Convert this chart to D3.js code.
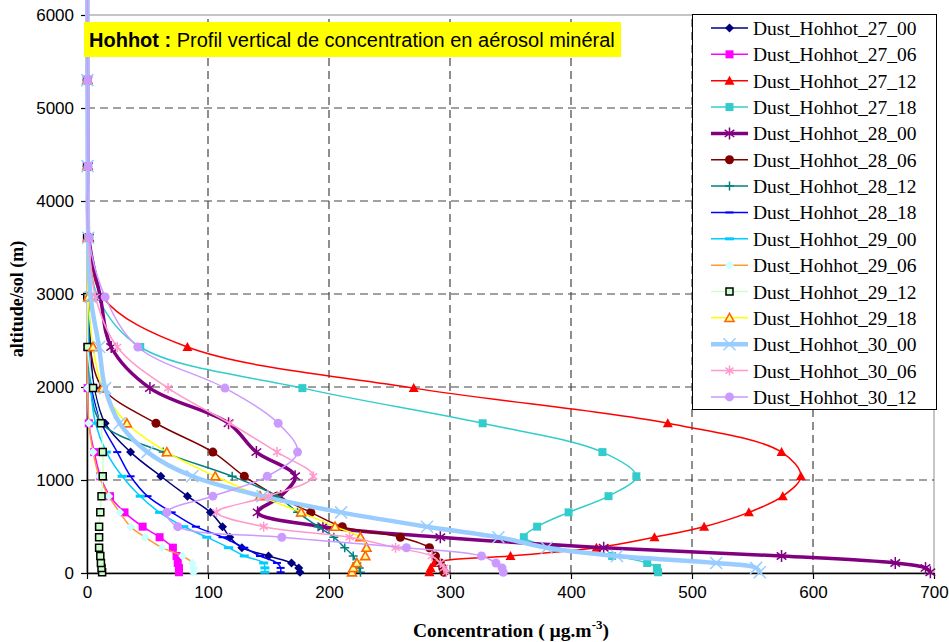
<!DOCTYPE html>
<html><head><meta charset="utf-8">
<script src="https://cdn.jsdelivr.net/npm/d3@7"></script>
<style>body{margin:0;background:#fff}svg{display:block}</style>
</head><body><svg id="c" width="949" height="642"></svg>
<script>
// ---------- DATA ----------
const altitudes = [8, 55, 108, 183, 272, 385, 498, 652, 826, 1040, 1300, 1610, 1988, 2430, 2968, 3605, 4375, 5300, 6600];
const seriesNames = ["Dust_Hohhot_27_00","Dust_Hohhot_27_06","Dust_Hohhot_27_12","Dust_Hohhot_27_18","Dust_Hohhot_28_00","Dust_Hohhot_28_06","Dust_Hohhot_28_12","Dust_Hohhot_28_18","Dust_Hohhot_29_00","Dust_Hohhot_29_06","Dust_Hohhot_29_12","Dust_Hohhot_29_18","Dust_Hohhot_30_00","Dust_Hohhot_30_06","Dust_Hohhot_30_12"];
const d27_00 = [176, 175, 169, 150, 128, 118, 112, 102, 83, 61, 36, 15, 6, 3, 1.5, 1, 0.5, 0.3, 0.2];
const d27_06 = [76, 76, 75, 74, 71, 60, 46, 31, 19, 11, 6, 1.5, 0.5, 0.3, 0.2, 0.2, 0.1, 0.1, 0.1];
const d27_12 = [283, 284, 287, 350, 421, 469, 510, 547, 575, 590, 574, 480, 270, 83, 13, 2, 1, 0.5, 0.3];
const d27_18 = [472, 471, 463, 434, 388, 361, 372, 398, 431, 454, 426, 327, 178, 44, 9, 2, 1, 0.5, 0.3];
const d28_00 = [697, 693, 668, 574, 427, 292, 195, 141, 160, 172, 140, 117, 52, 20, 11, 1.5, 0.8, 0.5, 0.3];
const d28_06 = [295, 294, 292, 288, 283, 259, 211, 185, 157, 130, 104, 57, 13, 2.5, 1, 0.5, 0.3, 0.2, 0.1];
const d28_12 = [226, 225, 223, 220, 213, 204, 191, 174, 157, 120, 63, 12, 3, 1, 0.5, 0.3, 0.2, 0.1, 0.1];
const d28_18 = [160, 160, 157, 143, 130, 112, 90, 70, 50, 36, 25, 12, 4, 1.5, 0.8, 0.5, 0.3, 0.2, 0.1];
const d29_00 = [147, 147, 146, 130, 117, 99, 80, 60, 44, 29, 16, 7, 3, 1.5, 0.8, 0.5, 0.3, 0.2, 0.1];
const d29_06 = [88, 88, 87, 79, 62, 48, 36, 27, 18, 10, 5, 1.5, 0.5, 0.3, 0.2, 0.2, 0.1, 0.1, 0.1];
const d29_12 = [12.5, 12, 11.5, 11, 10, 10, 10, 11, 12, 13, 13, 11.5, 5, 0.5, 0.2, 0.1, 0.1, 0.1, 0.1];
const d29_18 = [219, 220, 223, 230, 231, 226, 205, 177, 143, 106, 66, 33, 13, 5, 1, 0.5, 0.3, 0.2, 0.1];
const d30_00 = [556, 553, 520, 438, 380, 340, 281, 210, 145, 87, 50, 27, 15, 10, 3, 1, 0.5, 0.3, 0.2];
const d30_06 = [297, 295, 292, 285, 255, 217, 146, 107, 150, 187, 157, 118, 67, 25, 7, 1.5, 0.8, 0.5, 0.3];
const d30_12 = [344, 343, 338, 326, 264, 161, 75, 66, 104, 149, 174, 158, 114, 42, 15, 1.5, 0.8, 0.5, 0.3];
const xTicks = [0, 100, 200, 300, 400, 500, 600, 700];
const yTicks = [0, 1000, 2000, 3000, 4000, 5000, 6000];
const titleBold = "Hohhot :";
const titleRest = " Profil vertical de concentration en aérosol minéral";
const xLabel = "Concentration ( µg.m";
const xLabelSup = "-3";
const yLabel = "altitude/sol (m)";

// ---------- STYLES ----------
const allValues = [d27_00,d27_06,d27_12,d27_18,d28_00,d28_06,d28_12,d28_18,d29_00,d29_06,d29_12,d29_18,d30_00,d30_06,d30_12];
const styles = [
  {line:"#000080", w:1.5, m:"diamond", fill:"#000080", stroke:"none", ms:9},
  {line:"#FF00FF", w:1.5, m:"square", fill:"#FF00FF", stroke:"none", ms:8},
  {line:"#FF0000", w:1.5, m:"triangle", fill:"#FF0000", stroke:"none", ms:10},
  {line:"#33CCCC", w:1.5, m:"square", fill:"#33CCCC", stroke:"none", ms:8},
  {line:"#800080", w:3.5, m:"star", fill:"none", stroke:"#800080", ms:12, sw:1.5},
  {line:"#800000", w:1.5, m:"circle", fill:"#800000", stroke:"none", ms:9},
  {line:"#008080", w:1.5, m:"plus", fill:"none", stroke:"#008080", ms:9, sw:1.5},
  {line:"#0000FF", w:1.5, m:"dash", fill:"none", stroke:"#0000FF", ms:8, sw:2},
  {line:"#00CCFF", w:1.5, m:"dash", fill:"none", stroke:"#00CCFF", ms:9, sw:3},
  {line:"#FF9933", w:1.5, m:"diamond", fill:"#CCFFFF", stroke:"none", ms:9},
  {line:"#CCFFCC", w:1.5, m:"square", fill:"#CCFFCC", stroke:"#000000", ms:7, sw:1.5},
  {line:"#FFFF00", w:1.5, m:"triangle", fill:"#FFFF99", stroke:"#FF6600", ms:9, sw:1.6},
  {line:"#99CCFF", w:4.5, m:"x", fill:"none", stroke:"#99CCFF", ms:12, sw:1.5},
  {line:"#FF99CC", w:1.5, m:"star", fill:"none", stroke:"#FF99CC", ms:10, sw:1.5},
  {line:"#CC99FF", w:1.5, m:"circle", fill:"#CC99FF", stroke:"none", ms:9}
];

const svg = d3.select("#c");
const x = d3.scaleLinear().domain([0, 700]).range([87, 934]);
const y = d3.scaleLinear().domain([0, 6000]).range([573, 15]);

function markerPath(type, s) {
  const h = s / 2;
  switch (type) {
    case "diamond": return `M0,${-h}L${h},0L0,${h}L${-h},0Z`;
    case "square": return `M${-h},${-h}H${h}V${h}H${-h}Z`;
    case "triangle": return `M0,${-h}L${h},${h*0.8}L${-h},${h*0.8}Z`;
    case "circle": return d3.symbol(d3.symbolCircle, Math.PI*h*h)();
    case "star": return `M0,${-h}V${h}M${-h*0.8},${-h*0.6}L${h*0.8},${h*0.6}M${-h*0.8},${h*0.6}L${h*0.8},${-h*0.6}`;
    case "plus": return `M0,${-h}V${h}M${-h},0H${h}`;
    case "dash": return `M${-h},0H${h}`;
    case "x": return `M${-h},${-h}L${h},${h}M${-h},${h}L${h},${-h}`;
  }
}

// plot border (grey) and gridlines
svg.append("rect").attr("x", 87).attr("y", 15).attr("width", 934-87).attr("height", 573-15)
  .attr("fill", "none").attr("stroke", "#a0a0a0").attr("stroke-width", 1.2);
const grid = svg.append("g");
grid.selectAll("line.v").data(xTicks.filter(v => v > 0 && v < 700)).join("line")
  .attr("x1", d => x(d)).attr("x2", d => x(d)).attr("y1", y(0)).attr("y2", y(6000))
  .attr("stroke", "#444").attr("stroke-width", 1.2).attr("stroke-dasharray", "8,5");
grid.selectAll("line.h").data(yTicks.filter(v => v > 0 && v < 6000)).join("line")
  .attr("y1", d => y(d)).attr("y2", d => y(d)).attr("x1", x(0)).attr("x2", x(700))
  .attr("stroke", "#444").attr("stroke-width", 1.2).attr("stroke-dasharray", "8,5");

// axes
const fontTick = "'Liberation Sans', Arial, sans-serif";
const yAxis = svg.append("g").attr("transform", `translate(${x(0)},0)`)
  .call(d3.axisLeft(y).tickValues(yTicks).tickSize(6).tickPadding(7).tickFormat(d3.format("d")).tickSizeOuter(0));
const xAxis = svg.append("g").attr("transform", `translate(0,${y(0)})`)
  .call(d3.axisBottom(x).tickValues(xTicks).tickSize(6).tickPadding(7).tickFormat(d3.format("d")).tickSizeOuter(0));
[xAxis, yAxis].forEach(a => {
  a.select(".domain").attr("stroke", "#000").attr("stroke-width", 1.5);
  a.selectAll(".tick line").attr("stroke", "#000").attr("stroke-width", 1.2);
  a.selectAll(".tick text").attr("font-family", fontTick).attr("font-size", 17).attr("fill", "#000");
});

// series
const lineGen = d3.line().x(d => x(d[0])).y(d => y(d[1])).curve(d3.curveCatmullRom.alpha(0.5));
allValues.forEach((vals, i) => {
  const st = styles[i];
  const pts = vals.map((v, k) => [v, altitudes[k]]);
  const g = svg.append("g");
  g.append("path").attr("d", lineGen(pts)).attr("fill", "none")
    .attr("stroke", st.line).attr("stroke-width", st.w).attr("stroke-linejoin", "round");
  g.selectAll("path.m").data(pts).join("path").attr("class", "m")
    .attr("transform", d => `translate(${x(d[0])},${y(d[1])})`)
    .attr("d", markerPath(st.m, st.ms))
    .attr("fill", st.fill).attr("stroke", st.stroke).attr("stroke-width", st.sw || 1);
});

// title
svg.append("rect").attr("x", 84).attr("y", 22).attr("width", 537).attr("height", 35).attr("fill", "#FFFF00");
const tt = svg.append("text").attr("x", 89).attr("y", 47)
  .attr("font-family", "'Liberation Sans', Arial, sans-serif").attr("font-size", 20).attr("fill", "#000");
tt.append("tspan").attr("font-weight", "bold").text(titleBold);
tt.append("tspan").text(titleRest);

// legend
const lg = svg.append("g");
lg.append("rect").attr("x", 692.5).attr("y", 14.5).attr("width", 244).attr("height", 395)
  .attr("fill", "#fff").attr("stroke", "#000").attr("stroke-width", 1);
seriesNames.forEach((name, i) => {
  const st = styles[i];
  const cy = 28 + i * 26.35;
  lg.append("line").attr("x1", 711).attr("x2", 748).attr("y1", cy).attr("y2", cy)
    .attr("stroke", st.line).attr("stroke-width", st.w);
  lg.append("path").attr("transform", `translate(729.5,${cy})`).attr("d", markerPath(st.m, st.ms))
    .attr("fill", st.fill).attr("stroke", st.stroke).attr("stroke-width", st.sw || 1);
  lg.append("text").attr("x", 753).attr("y", cy + 7).attr("font-family", "'Liberation Serif', 'Times New Roman', serif")
    .attr("font-size", 19.5).attr("fill", "#000").text(name);
});

// axis titles
const xt = svg.append("text").attr("x", 511).attr("y", 637).attr("text-anchor", "middle")
  .attr("font-family", "'Liberation Serif', 'Times New Roman', serif").attr("font-weight", "bold").attr("font-size", 19.5);
xt.append("tspan").text(xLabel);
xt.append("tspan").attr("font-size", 13).attr("dy", -8).text(xLabelSup);
xt.append("tspan").attr("dy", 8).text(")");
svg.append("text").attr("transform", "translate(23,299) rotate(-90)").attr("text-anchor", "middle")
  .attr("font-family", "'Liberation Serif', 'Times New Roman', serif").attr("font-weight", "bold").attr("font-size", 18)
  .text(yLabel);
</script></body></html>
